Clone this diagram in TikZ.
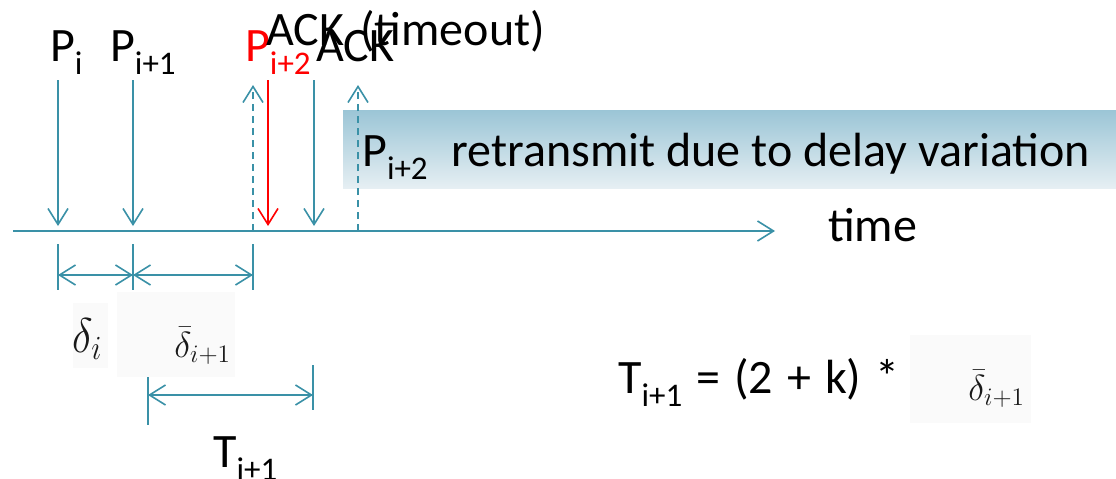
\documentclass[tikz,border=0pt]{standalone}
\usepackage{fontspec}
\setmainfont{Carlito}
\usetikzlibrary{arrows.meta}
\definecolor{tealline}{HTML}{3A91A7}
\definecolor{boxtop}{HTML}{9BC5D6}
\definecolor{boxbot}{HTML}{E6EFF3}
\definecolor{imgbg}{HTML}{FAFAFA}
\newcommand\mysub[1]{\raisebox{-13pt}{\fontsize{33}{33}\selectfont #1}}
\begin{document}
\begin{tikzpicture}[x=1pt,y=-1pt,
  lbl/.style={inner sep=0pt, anchor=base west, font=\fontsize{48}{50}\selectfont},
  mathlbl/.style={inner sep=0pt, anchor=base west, text=black!90, font=\fontsize{20}{20}\selectfont},
  barb/.tip={Straight Barb[length=16pt,width=20pt]},
  tarrow/.style={draw=tealline, line width=1.6pt, -barb},
  redarrow/.style={draw=red, line width=1.6pt, -barb},
  dasharrow/.style={draw=tealline, line width=1.6pt, dash pattern=on 7pt off 5pt, -barb},
  dimarrow/.style={draw=tealline, line width=1.6pt, barb-barb},
  tick/.style={draw=tealline, line width=1.6pt},
  imgbox/.style={fill=imgbg, draw=none}
]
\useasboundingbox (0,0) rectangle (1116,479);

% shaded note box
\shade[top color=boxtop, bottom color=boxbot] (343,110) rectangle (1116,188);
\node[lbl] (note) at (362,166) {P\mysub{i+2}\hspace{24pt}retransmit due to delay variation};

% top labels
\node[lbl] (pi) at (50,61) {P\mysub{i}};
\node[lbl] (pi1) at (110,61) {P\mysub{i+1}};
\node[lbl, text=red] (pi2) at (245,61) {P\mysub{i+2}};
\node[lbl] (ackt) at (266,45) {\spaceskip=16pt ACK (timeout)};
\node[lbl] (ack) at (316,61) {ACK};
\node[lbl] (time) at (828,241) {time};

% coordinates
\coordinate (ax0) at (13,231);
\coordinate (ax1) at (775,231);
\coordinate (t1) at (58,80);   \coordinate (b1) at (58,226);
\coordinate (t2) at (133,80);  \coordinate (b2) at (133,226);
\coordinate (t3) at (268,80);  \coordinate (b3) at (268,226);
\coordinate (t4) at (314,80);  \coordinate (b4) at (314,226);
\coordinate (d1b) at (253,231); \coordinate (d1t) at (253,85);
\coordinate (d2b) at (358,231); \coordinate (d2t) at (358,85);

% axis
\draw[tarrow] (ax0) -- (ax1);

% arrows
\draw[tarrow] (t1) -- (b1);
\draw[tarrow] (t2) -- (b2);
\draw[redarrow] (t3) -- (b3);
\draw[tarrow] (t4) -- (b4);
\draw[dasharrow] (d1b) -- (d1t);
\draw[dasharrow] (d2b) -- (d2t);

% dimension ticks and arrows
\coordinate (k1t) at (58,244);  \coordinate (k1b) at (58,290);
\coordinate (k2t) at (133,244); \coordinate (k2b) at (133,290);
\coordinate (k3t) at (253,244); \coordinate (k3b) at (253,290);
\draw[tick] (k1t) -- (k1b);
\draw[tick] (k2t) -- (k2b);
\draw[tick] (k3t) -- (k3b);
\coordinate (m1) at (58,275); \coordinate (m2) at (133,275); \coordinate (m3) at (253,275);
\draw[dimarrow] (m1) -- (m2);
\draw[dimarrow] (m2) -- (m3);

\coordinate (k4t) at (148,365); \coordinate (k4b) at (148,425);
\coordinate (k5t) at (313,365); \coordinate (k5b) at (313,410);
\draw[tick] (k4t) -- (k4b);
\draw[tick] (k5t) -- (k5b);
\coordinate (m4) at (148,395); \coordinate (m5) at (313,395);
\draw[dimarrow] (m4) -- (m5);

% math labels
\fill[imgbox] (73,303) rectangle (108,368);
\fill[imgbox] (117,292) rectangle (235,377);
\fill[imgbox] (910,335) rectangle (1031,423);
\node[mathlbl, xscale=2.1, yscale=2.35] (di) at (72,352) {$\delta_i$};
\node[mathlbl, scale=1.75] (db) at (174,357) {$\bar{\delta}_{i+1}$};
\node[mathlbl, scale=1.75] (db2) at (968,400) {$\bar{\delta}_{i+1}$};

\node[lbl] (tlabel) at (213,467) {T\mysub{i+1}};
\node[lbl] (formula) at (618,393) {\spaceskip=14pt T\mysub{i+1} = (2 + k) *};
\end{tikzpicture}
\end{document}
